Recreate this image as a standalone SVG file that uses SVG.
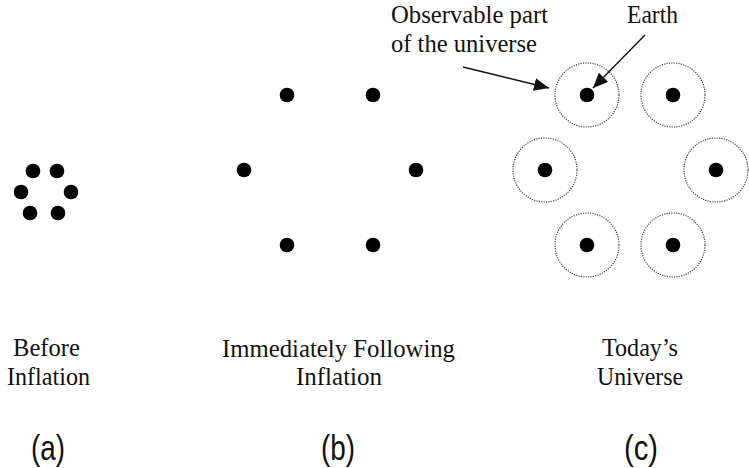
<svg xmlns="http://www.w3.org/2000/svg" width="749" height="468" viewBox="0 0 749 468">
<style>
.dot{fill:#000}
.ring{fill:none;stroke:#444;stroke-width:1.2;stroke-dasharray:1.2 1.2}
.t{font-family:"Liberation Serif","Times New Roman",serif;font-size:25px;fill:#111}
.lbl{font-family:"Liberation Sans",Arial,sans-serif;font-size:35px;fill:#111}
.arr{stroke:#111;stroke-width:1.4;fill:none}
</style>
<defs>
<marker id="ah" markerUnits="userSpaceOnUse" markerWidth="16" markerHeight="14" refX="15" refY="6.5" orient="auto">
<path d="M0,0 L15,6.5 L0,13 Z" fill="#111"/>
</marker>
</defs>
<rect width="749" height="468" fill="#fff"/>
<g id="panel-a">
<circle class="dot" cx="33" cy="171" r="7.3"/>
<circle class="dot" cx="57" cy="171" r="7.3"/>
<circle class="dot" cx="21" cy="192" r="7.3"/>
<circle class="dot" cx="71" cy="192" r="7.3"/>
<circle class="dot" cx="30" cy="213" r="7.3"/>
<circle class="dot" cx="58" cy="213" r="7.3"/>
</g>
<g id="panel-b">
<circle class="dot" cx="287" cy="95" r="7.3"/>
<circle class="dot" cx="373" cy="95" r="7.3"/>
<circle class="dot" cx="244" cy="170" r="7.3"/>
<circle class="dot" cx="416" cy="170" r="7.3"/>
<circle class="dot" cx="287" cy="245" r="7.3"/>
<circle class="dot" cx="373" cy="245" r="7.3"/>
</g>
<g id="panel-c">
<g id="earth-region"><circle class="ring" cx="587" cy="95" r="32"/><circle class="dot" cx="587" cy="95" r="7.3"/></g>
<g id="region-2"><circle class="ring" cx="673" cy="95" r="32"/><circle class="dot" cx="673" cy="95" r="7.3"/></g>
<g id="region-3"><circle class="ring" cx="545" cy="170" r="32"/><circle class="dot" cx="545" cy="170" r="7.3"/></g>
<g id="region-4"><circle class="ring" cx="716" cy="170" r="32"/><circle class="dot" cx="716" cy="170" r="7.3"/></g>
<g id="region-5"><circle class="ring" cx="587" cy="245" r="32"/><circle class="dot" cx="587" cy="245" r="7.3"/></g>
<g id="region-6"><circle class="ring" cx="673" cy="245" r="32"/><circle class="dot" cx="673" cy="245" r="7.3"/></g>
</g>
<g id="connectors">
<line class="arr" x1="463" y1="67" x2="549" y2="88" marker-end="url(#ah)"/>
<line class="arr" x1="645" y1="35" x2="593" y2="88" marker-end="url(#ah)"/>
</g>
<g id="annotations">
<text class="t" x="391" y="23" textLength="157" lengthAdjust="spacingAndGlyphs">Observable part</text>
<text class="t" x="391" y="52" textLength="146" lengthAdjust="spacingAndGlyphs">of the universe</text>
<text class="t" x="627" y="23" textLength="51" lengthAdjust="spacingAndGlyphs">Earth</text>
</g>
<g id="captions">
<text class="t" x="13" y="356" textLength="67" lengthAdjust="spacingAndGlyphs">Before</text>
<text class="t" x="7" y="385" textLength="83" lengthAdjust="spacingAndGlyphs">Inflation</text>
<text class="t" x="222" y="357" textLength="233" lengthAdjust="spacingAndGlyphs">Immediately Following</text>
<text class="t" x="296" y="385" textLength="86" lengthAdjust="spacingAndGlyphs">Inflation</text>
<text class="t" x="602" y="356" textLength="76" lengthAdjust="spacingAndGlyphs">Today’s</text>
<text class="t" x="597" y="385" textLength="86" lengthAdjust="spacingAndGlyphs">Universe</text>
<text class="lbl" x="31" y="460" textLength="34" lengthAdjust="spacingAndGlyphs">(a)</text>
<text class="lbl" x="321" y="460" textLength="34" lengthAdjust="spacingAndGlyphs">(b)</text>
<text class="lbl" x="624" y="460" textLength="34" lengthAdjust="spacingAndGlyphs">(c)</text>
</g>
</svg>
